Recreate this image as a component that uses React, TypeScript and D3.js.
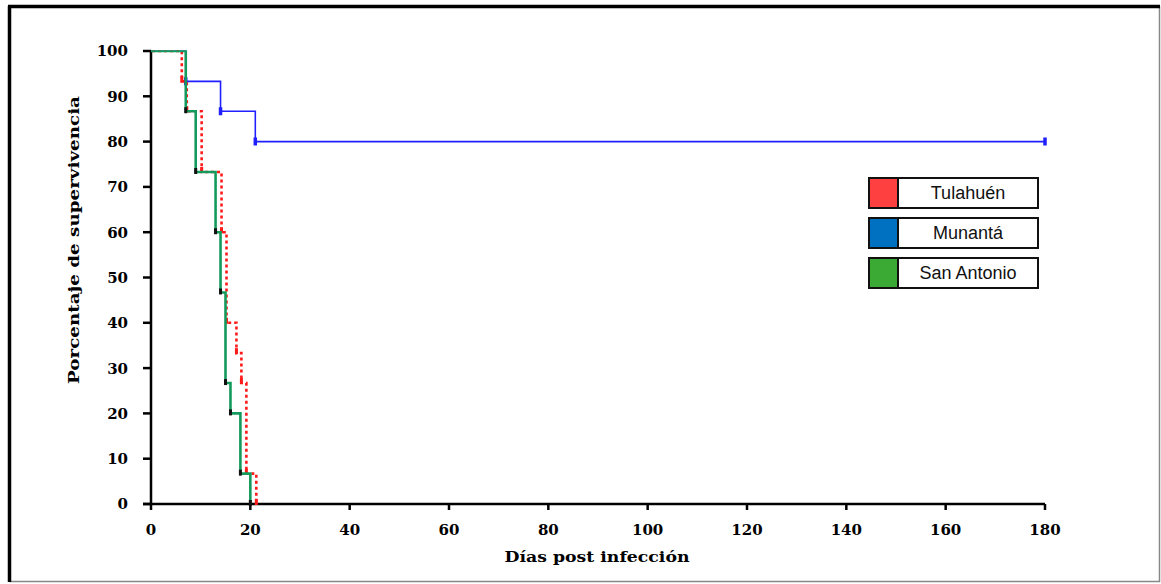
import React from "react";
import * as d3 from "d3";

const W = 1161;
const H = 584;

const xTicks = [0, 20, 40, 60, 80, 100, 120, 140, 160, 180];
const yTicks = [0, 10, 20, 30, 40, 50, 60, 70, 80, 90, 100];

const tulahuenDays = [0, 6, 7, 10, 14, 15, 17, 18, 19, 21];
const tulahuenSurv = [100, 93.3, 86.7, 73.3, 60, 40, 33.3, 26.7, 6.7, 0];

const munantaDays = [0, 7, 14, 21, 180];
const munantaSurv = [100, 93.3, 86.7, 80, 80];
const munantaMarkDays = [7, 14, 21, 180];
const munantaMarkSurv = [93.3, 86.7, 80, 80];

const sanAntonioDays = [0, 7, 9, 13, 14, 15, 16, 18, 20];
const sanAntonioSurv = [100, 86.7, 73.3, 60, 46.7, 26.7, 20, 6.7, 0];

const legendLabels = ["Tulahuén", "Munantá", "San Antonio"];
const legendColors = ["#ff4040", "#0070c0", "#3aaa35"];

export default function App() {
  const x = d3.scaleLinear().domain([0, 180]).range([151, 1045]);
  const y = d3.scaleLinear().domain([0, 100]).range([504, 51]);

  const line = d3
    .line<[number, number]>()
    .x((d) => x(d[0]))
    .y((d) => y(d[1]))
    .curve(d3.curveStepAfter);

  const zip = (a: number[], b: number[]) => a.map((v, i) => [v, b[i]] as [number, number]);

  const red = zip(tulahuenDays, tulahuenSurv);
  const blue = zip(munantaDays, munantaSurv);
  const green = zip(sanAntonioDays, sanAntonioSurv);

  const serif = "'DejaVu Serif', serif";

  return (
    <svg width={W} height={H} style={{ position: "absolute", left: 0, top: 0, background: "#fff" }}>
      <defs>
        <clipPath id="plotClip">
          <rect x={x(0)} y={y(100) - 0.8} width={x(180) - x(0) + 10} height={y(0) - y(100) + 10} />
        </clipPath>
      </defs>
      {/* frame */}
      <line x1={1159.5} y1={6} x2={1159.5} y2={582} stroke="#888" strokeWidth={1.5} />
      <line x1={9} y1={581.5} x2={1160} y2={581.5} stroke="#888" strokeWidth={1.5} />
      <line x1={9.5} y1={6} x2={9.5} y2={582} stroke="#000" strokeWidth={3.5} />
      <line x1={8} y1={6.5} x2={1160} y2={6.5} stroke="#000" strokeWidth={3.5} />

      {/* axes */}
      <line x1={x(0)} y1={y(100)} x2={x(0)} y2={y(0)} stroke="#000" strokeWidth={2.5} />
      <line x1={x(0) - 8} y1={y(0)} x2={x(180)} y2={y(0)} stroke="#000" strokeWidth={2.5} />
      {yTicks.map((t) => (
        <g key={"y" + t}>
          <line x1={x(0) - 8} x2={x(0)} y1={y(t)} y2={y(t)} stroke="#000" strokeWidth={2.5} />
          <text
            x={128}
            y={y(t)}
            dy="0.36em"
            textAnchor="end"
            fontFamily={serif}
            fontWeight="bold"
            fontSize={15}
            fill="#000"
          >
            {t}
          </text>
        </g>
      ))}
      {xTicks.map((t) => (
        <g key={"x" + t}>
          <line x1={x(t)} x2={x(t)} y1={y(0)} y2={y(0) + 6} stroke="#000" strokeWidth={2.5} />
          <text
            x={x(t)}
            y={530}
            dy="0.36em"
            textAnchor="middle"
            fontFamily={serif}
            fontWeight="bold"
            fontSize={15}
            fill="#000"
          >
            {t}
          </text>
        </g>
      ))}

      {/* axis titles */}
      <text
        x={597}
        y={562}
        textAnchor="middle"
        fontFamily={serif}
        fontWeight="bold"
        fontSize={15}
        textLength={185}
        lengthAdjust="spacingAndGlyphs"
      >
        Días post infección
      </text>
      <text
        transform={`translate(79,${(95 + 385) / 2}) rotate(-90)`}
        textAnchor="middle"
        fontFamily={serif}
        fontWeight="bold"
        fontSize={15}
        textLength={288}
        lengthAdjust="spacingAndGlyphs"
      >
        Porcentaje de supervivencia
      </text>

      {/* curves */}
      <g clipPath="url(#plotClip)">
        <path d={line(blue) || ""} fill="none" stroke="#1f1fff" strokeWidth={1.6} />
        {munantaMarkDays.map((d, i) => (
          <line
            key={"bm" + i}
            x1={x(d)}
            x2={x(d)}
            y1={y(munantaMarkSurv[i]) - 4}
            y2={y(munantaMarkSurv[i]) + 4}
            stroke="#1f1fff"
            strokeWidth={3.5}
          />
        ))}
        <path
          d={line(red) || ""}
          fill="none"
          stroke="#ff1a1a"
          strokeWidth={2.6}
          strokeDasharray="3,3"
          transform="translate(1,0)"
        />
        {red.slice(1).map((p, i) => (
          <line
            key={"rm" + i}
            x1={x(p[0]) + 1}
            x2={x(p[0]) + 1}
            y1={y(p[1]) - 5}
            y2={y(p[1]) + 1}
            stroke="#ff1a1a"
            strokeWidth={3}
          />
        ))}
        <path d={line(green) || ""} fill="none" stroke="#149a5c" strokeWidth={2.6} />
        {green.slice(1).map((p, i) => (
          <line
            key={"gm" + i}
            x1={x(p[0])}
            x2={x(p[0])}
            y1={y(p[1]) - 4}
            y2={y(p[1]) + 2}
            stroke="#111"
            strokeWidth={3}
          />
        ))}
      </g>

      {/* legend */}
      {legendLabels.map((lab, i) => {
        const top = 178 + i * 40;
        return (
          <g key={lab}>
            <rect x={869} y={top} width={169} height={30} fill="#fff" stroke="#111" strokeWidth={2} />
            <rect x={869} y={top} width={29} height={30} fill={legendColors[i]} stroke="#111" strokeWidth={2} />
            <text
              x={968}
              y={top + 15}
              dy="0.36em"
              textAnchor="middle"
              fontFamily="'Liberation Sans', Arial, sans-serif"
              fontSize={18}
              fill="#111"
            >
              {lab}
            </text>
          </g>
        );
      })}
    </svg>
  );
}
